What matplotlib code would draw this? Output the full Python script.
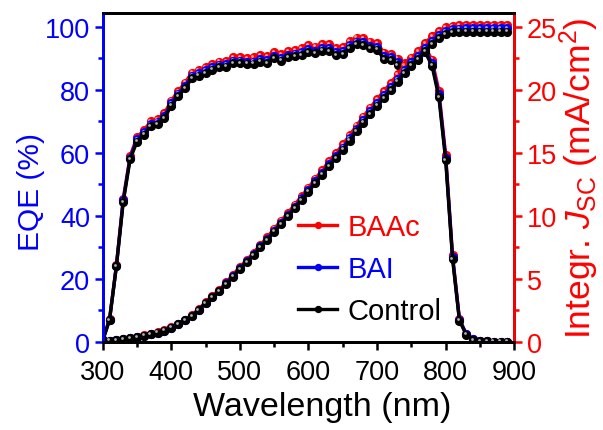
import matplotlib
matplotlib.use("Agg")
import matplotlib.pyplot as plt
from matplotlib.ticker import MultipleLocator
from matplotlib.transforms import offset_copy

plt.rcParams['font.family'] = ['Liberation Sans', 'DejaVu Sans']
plt.rcParams['mathtext.fontset'] = 'custom'
plt.rcParams['mathtext.rm'] = 'Liberation Sans'
plt.rcParams['mathtext.it'] = 'Liberation Sans:italic'

wavelength = list(range(300, 900, 10))

eqe_control = [0.5, 7.0, 24.0, 44.5, 58.0, 63.6, 65.8, 68.4, 69.2, 71.0,
               75.0, 78.0, 80.5, 83.7, 84.5, 85.4, 86.4, 87.2, 87.4, 88.5,
               88.6, 88.3, 88.3, 89.0, 88.6, 90.0, 89.3, 90.3, 90.7, 91.1,
               92.0, 91.6, 92.5, 92.4, 91.1, 91.4, 93.3, 94.5, 94.3, 93.2,
               92.8, 89.8, 89.5, 87.9, 86.6, 87.7, 89.5, 92.0, 87.7, 77.7,
               57.6, 26.3, 6.8, 2.3, 0.7, 0.3, 0.2, 0.1, 0.1, 0.1]
eqe_bai = [0.5, 7.1, 24.2, 45.0, 58.5, 64.3, 66.5, 69.1, 69.9, 71.7,
           75.8, 78.8, 81.3, 84.5, 85.3, 86.2, 87.2, 88.0, 88.2, 89.3,
           89.3, 88.9, 89.0, 89.8, 89.5, 90.8, 90.1, 91.1, 91.5, 91.9,
           92.9, 92.4, 93.3, 93.2, 91.9, 92.2, 94.1, 95.3, 95.1, 94.0,
           93.6, 90.6, 90.3, 88.7, 87.4, 88.5, 90.3, 92.8, 88.5, 78.6,
           58.4, 27.0, 7.1, 2.4, 0.8, 0.3, 0.2, 0.1, 0.1, 0.1]
eqe_baac = [0.5, 7.3, 24.5, 45.5, 59.0, 65.0, 67.2, 70.0, 70.8, 72.6,
            76.6, 79.6, 82.3, 85.5, 86.3, 87.2, 88.2, 89.0, 89.2, 90.4,
            90.5, 90.2, 90.3, 91.0, 90.6, 92.0, 91.3, 92.3, 92.7, 93.2,
            94.1, 93.7, 94.6, 94.5, 93.2, 93.5, 95.4, 96.6, 96.4, 95.3,
            94.9, 91.8, 91.4, 89.9, 88.6, 89.6, 91.3, 93.6, 89.6, 79.8,
            59.2, 27.5, 7.3, 2.5, 0.8, 0.3, 0.2, 0.1, 0.1, 0.1]

jsc_control = [0.00, 0.10, 0.16, 0.21, 0.29, 0.37, 0.50, 0.61, 0.74, 0.90,
               1.13, 1.40, 1.72, 2.05, 2.54, 3.07, 3.55, 4.02, 4.60, 5.18,
               5.80, 6.33, 6.90, 7.50, 8.10, 8.75, 9.37, 9.98, 10.60, 11.28,
               11.93, 12.62, 13.28, 13.98, 14.60, 15.26, 15.98, 16.70, 17.40, 18.10,
               18.75, 19.37, 20.00, 20.66, 21.35, 21.95, 22.45, 23.05, 23.65, 24.10,
               24.44, 24.58, 24.62, 24.63, 24.63, 24.63, 24.63, 24.63, 24.63, 24.63]
jsc_bai = [0.00, 0.10, 0.16, 0.21, 0.29, 0.37, 0.51, 0.62, 0.75, 0.91,
           1.14, 1.42, 1.74, 2.08, 2.57, 3.10, 3.59, 4.06, 4.65, 5.24,
           5.86, 6.40, 6.97, 7.58, 8.18, 8.84, 9.47, 10.08, 10.71, 11.40,
           12.06, 12.76, 13.42, 14.13, 14.75, 15.42, 16.15, 16.88, 17.58, 18.29,
           18.95, 19.58, 20.21, 20.88, 21.58, 22.19, 22.69, 23.29, 23.89, 24.34,
           24.69, 24.83, 24.87, 24.88, 24.88, 24.88, 24.88, 24.88, 24.88, 24.88]
jsc_baac = [0.00, 0.10, 0.17, 0.22, 0.30, 0.39, 0.52, 0.63, 0.77, 0.93,
            1.17, 1.45, 1.78, 2.12, 2.62, 3.15, 3.65, 4.14, 4.73, 5.33,
            5.96, 6.51, 7.09, 7.71, 8.32, 8.99, 9.62, 10.25, 10.89, 11.58,
            12.25, 12.96, 13.63, 14.36, 14.99, 15.67, 16.41, 17.16, 17.88, 18.60,
            19.27, 19.91, 20.56, 21.24, 21.94, 22.56, 23.09, 23.70, 24.28, 24.68,
            24.96, 25.08, 25.12, 25.12, 25.12, 25.12, 25.12, 25.12, 25.12, 25.12]

labels = ["BAAc", "BAI", "Control"]
colors = ["#ff0000", "#0000ff", "#000000"]
shines = ["#ffa0a0", "#a0a0ff", "#b0b0b0"]


# draw one series as a line of shaded "balls"
def ball_line(ax, x, y, color, shine, label=None):
    line, = ax.plot(x, y, color=color, lw=2.4, marker='o', ms=6.6,
                    mec=color, mew=0, label=label)
    hl = offset_copy(ax.transData, fig=ax.figure, x=-0.9, y=0.9, units='points')
    ax.plot(x, y, ls='none', marker='o', ms=2.0, mfc=shine, mew=0, transform=hl)
    return line


fig = plt.figure(figsize=(6.03, 4.31), dpi=100)
ax = fig.add_axes([0.1703, 0.2042, 0.6826, 0.7633])
ax2 = ax.twinx()

handles = []
for eqe, lab, c, s in zip([eqe_baac, eqe_bai, eqe_control], labels, colors, shines):
    handles.append(ball_line(ax, wavelength, eqe, c, s, lab))
for jsc, c, s in zip([jsc_baac, jsc_bai, jsc_control], colors, shines):
    ball_line(ax2, wavelength, jsc, c, s)

ax.set_xlim(300, 900)
ax.set_ylim(0, 104.4)
ax2.set_ylim(0, 26.1)

ax.xaxis.set_major_locator(MultipleLocator(100))
ax.xaxis.set_minor_locator(MultipleLocator(50))
ax.yaxis.set_major_locator(MultipleLocator(20))
ax.yaxis.set_minor_locator(MultipleLocator(10))
ax2.yaxis.set_major_locator(MultipleLocator(5))
ax2.yaxis.set_minor_locator(MultipleLocator(2.5))

for a in (ax, ax2):
    for sp in a.spines.values():
        sp.set_linewidth(2.0)
    a.tick_params(which='major', length=6, width=1.8, labelsize=19.5, pad=3)
    a.tick_params(which='minor', length=3.5, width=1.8)
ax.tick_params(axis='x', which='both', direction='out', top=False, pad=6)
ax.spines['left'].set_color('#0000ff')
ax2.spines['left'].set_color('#0000ff')
ax2.spines['right'].set_color('#ff0000')
ax.tick_params(axis='y', which='both', colors='#0000ff')
ax2.tick_params(axis='y', which='both', colors='#ff0000')

ax.set_xlabel("Wavelength (nm)", fontsize=24.5)
ax.xaxis.set_label_coords(0.533, -0.148)
ax.set_ylabel("EQE (%)", fontsize=21.5, color='#0000ff')
ax.yaxis.set_label_coords(-0.14, 0.46)
ax2.set_ylabel("Integr. $J_{\\rm SC}$ (mA/cm$^2$)", fontsize=25.5, color='#ff0000')
ax2.yaxis.set_label_coords(1.105, 0.5)

leg = ax2.legend(handles=handles, loc='upper left', bbox_to_anchor=(298 / 603, 1 - 214 / 431),
                 bbox_transform=fig.transFigure, frameon=False, fontsize=21,
                 handlelength=1.35, handletextpad=0.35, labelspacing=0.48,
                 borderpad=0, borderaxespad=0, labelcolor='linecolor', markerscale=0.8)

fig.savefig("out.png", dpi=100)
